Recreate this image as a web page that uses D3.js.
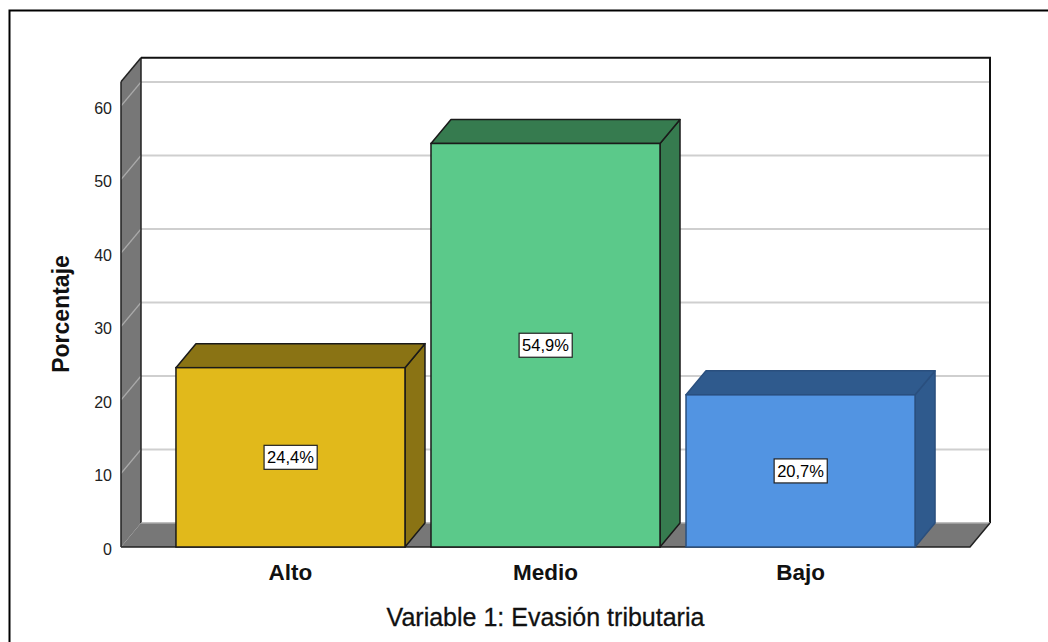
<!DOCTYPE html>
<html>
<head>
<meta charset="utf-8">
<script src="https://cdn.jsdelivr.net/npm/d3@7"></script>
<style>
  html, body { margin: 0; padding: 0; background: #fff; }
  svg { display: block; font-family: "Liberation Sans", Arial, sans-serif; }
</style>
</head>
<body>
<svg id="chart" width="1048" height="642"></svg>
<script>
// ---- data ----
const categories = ["Alto", "Medio", "Bajo"];
const values = [24.4, 54.9, 20.7];
const valueLabels = ["24,4%", "54,9%", "20,7%"];
const yTicks = [0, 10, 20, 30, 40, 50, 60];
const frontColors = ["#E1B91B", "#5BC98A", "#5294E2"];
const sideColors = ["#8A7314", "#367B4F", "#2F5A8D"];
const strokeColors = ["#1a1a1a", "#1a1a1a", "#2a4f7e"];
const yTitle = "Porcentaje";
const xTitle = "Variable 1: Evasión tributaria";

// ---- layout ----
const svg = d3.select("#chart");
const W = 1048, H = 642;
const left = 121, right = 970, bottom = 547;
const dx = 20, dy = -24;

const x = d3.scaleBand().domain(categories).range([left, right])
  .paddingInner(0.102).paddingOuter(0.2155);
const y = d3.scaleLinear().domain([0, 60]).range([bottom, 106]);
const yMax = 63.3;
const topY = y(yMax);

// outer frame
svg.append("rect").attr("x", 9.5).attr("y", 10.5).attr("width", W + 20).attr("height", H + 20)
  .attr("fill", "none").attr("stroke", "#000").attr("stroke-width", 2);

// back wall
svg.append("rect").attr("x", left + dx).attr("y", topY + dy)
  .attr("width", right - left).attr("height", bottom - topY)
  .attr("fill", "#fff");

// gridlines on back wall
svg.append("g").selectAll("line").data(yTicks.filter(d => d > 0)).join("line")
  .attr("x1", left + dx).attr("x2", right + dx)
  .attr("y1", d => y(d) + dy).attr("y2", d => y(d) + dy)
  .attr("stroke", "#cfcfcf").attr("stroke-width", 2);

// left side wall
svg.append("path")
  .attr("d", `M${left},${bottom} L${left},${topY} L${left + dx},${topY + dy} L${left + dx},${bottom + dy} Z`)
  .attr("fill", "#777").attr("stroke", "none");
// side-wall gridlines
svg.append("g").selectAll("line").data(yTicks.filter(d => d > 0)).join("line")
  .attr("x1", left).attr("x2", left + dx)
  .attr("y1", d => y(d)).attr("y2", d => y(d) + dy)
  .attr("stroke", "#aaa").attr("stroke-width", 1.2);
// side wall edges
svg.append("line").attr("x1", left).attr("x2", left).attr("y1", topY).attr("y2", bottom)
  .attr("stroke", "#222").attr("stroke-width", 1.5);
svg.append("line").attr("x1", left + dx).attr("x2", left + dx).attr("y1", topY + dy).attr("y2", bottom + dy)
  .attr("stroke", "#222").attr("stroke-width", 1.5);
svg.append("line").attr("x1", left).attr("x2", left + dx).attr("y1", topY).attr("y2", topY + dy)
  .attr("stroke", "#222").attr("stroke-width", 1.5);

// back wall top and right edges
svg.append("path")
  .attr("d", `M${left + dx},${topY + dy} L${right + dx},${topY + dy} L${right + dx},${bottom + dy}`)
  .attr("fill", "none").attr("stroke", "#111").attr("stroke-width", 2);

// floor
svg.append("path")
  .attr("d", `M${left},${bottom} L${right},${bottom} L${right + dx},${bottom + dy} L${left + dx},${bottom + dy} Z`)
  .attr("fill", "#777").attr("stroke", "none");
svg.append("line").attr("x1", left + dx).attr("x2", right + dx).attr("y1", bottom + dy).attr("y2", bottom + dy)
  .attr("stroke", "#aaa").attr("stroke-width", 1.5);
svg.append("path")
  .attr("d", `M${left},${bottom} L${right},${bottom} L${right + dx},${bottom + dy}`)
  .attr("fill", "none").attr("stroke", "#222").attr("stroke-width", 1.5);

// bars
const bars = svg.append("g").selectAll("g").data(categories).join("g");
bars.each(function (c, i) {
  const g = d3.select(this);
  const x0 = x(c), x1 = x(c) + x.bandwidth();
  const yt = y(values[i]);
  // side face
  g.append("path")
    .attr("d", `M${x1},${yt} L${x1 + dx},${yt + dy} L${x1 + dx},${bottom + dy} L${x1},${bottom} Z`)
    .attr("fill", sideColors[i]).attr("stroke", strokeColors[i]).attr("stroke-width", 1.5)
    .attr("stroke-linejoin", "round");
  // top face
  g.append("path")
    .attr("d", `M${x0},${yt} L${x1},${yt} L${x1 + dx},${yt + dy} L${x0 + dx},${yt + dy} Z`)
    .attr("fill", sideColors[i]).attr("stroke", strokeColors[i]).attr("stroke-width", 1.5)
    .attr("stroke-linejoin", "round");
  // front face
  g.append("rect")
    .attr("x", x0).attr("y", yt).attr("width", x1 - x0).attr("height", bottom - yt)
    .attr("fill", frontColors[i]).attr("stroke", strokeColors[i]).attr("stroke-width", 1.5);

  // value label
  const cx = (x0 + x1) / 2, cy = (yt + bottom) / 2;
  const t = g.append("text").attr("x", cx).attr("y", cy + 6)
    .attr("text-anchor", "middle").attr("font-size", 16.5).attr("fill", "#000")
    .text(valueLabels[i]);
  const bb = t.node().getBBox();
  g.insert("rect", "text")
    .attr("x", bb.x - 3).attr("y", cy - 12).attr("width", bb.width + 6).attr("height", 24)
    .attr("fill", "#fff").attr("stroke", "#222").attr("stroke-width", 1.2);
});

// y tick labels
svg.append("g").selectAll("text").data(yTicks).join("text")
  .attr("x", 112).attr("y", d => y(d) + 7.5)
  .attr("text-anchor", "end").attr("font-size", 16).attr("fill", "#222")
  .text(d => d);

// x category labels
svg.append("g").selectAll("text").data(categories).join("text")
  .attr("x", d => x(d) + x.bandwidth() / 2).attr("y", 580)
  .attr("text-anchor", "middle").attr("font-size", 22.5).attr("font-weight", "bold").attr("fill", "#111")
  .text(d => d);

// axis titles
svg.append("text").attr("x", (left + right) / 2).attr("y", 626)
  .attr("text-anchor", "middle").attr("font-size", 25).attr("fill", "#111")
  .attr("stroke", "#111").attr("stroke-width", 0.3)
  .text(xTitle);
svg.append("text").attr("transform", `translate(69,314) rotate(-90)`)
  .attr("text-anchor", "middle").attr("font-size", 23).attr("font-weight", "bold").attr("fill", "#111")
  .text(yTitle);
</script>
</body>
</html>
